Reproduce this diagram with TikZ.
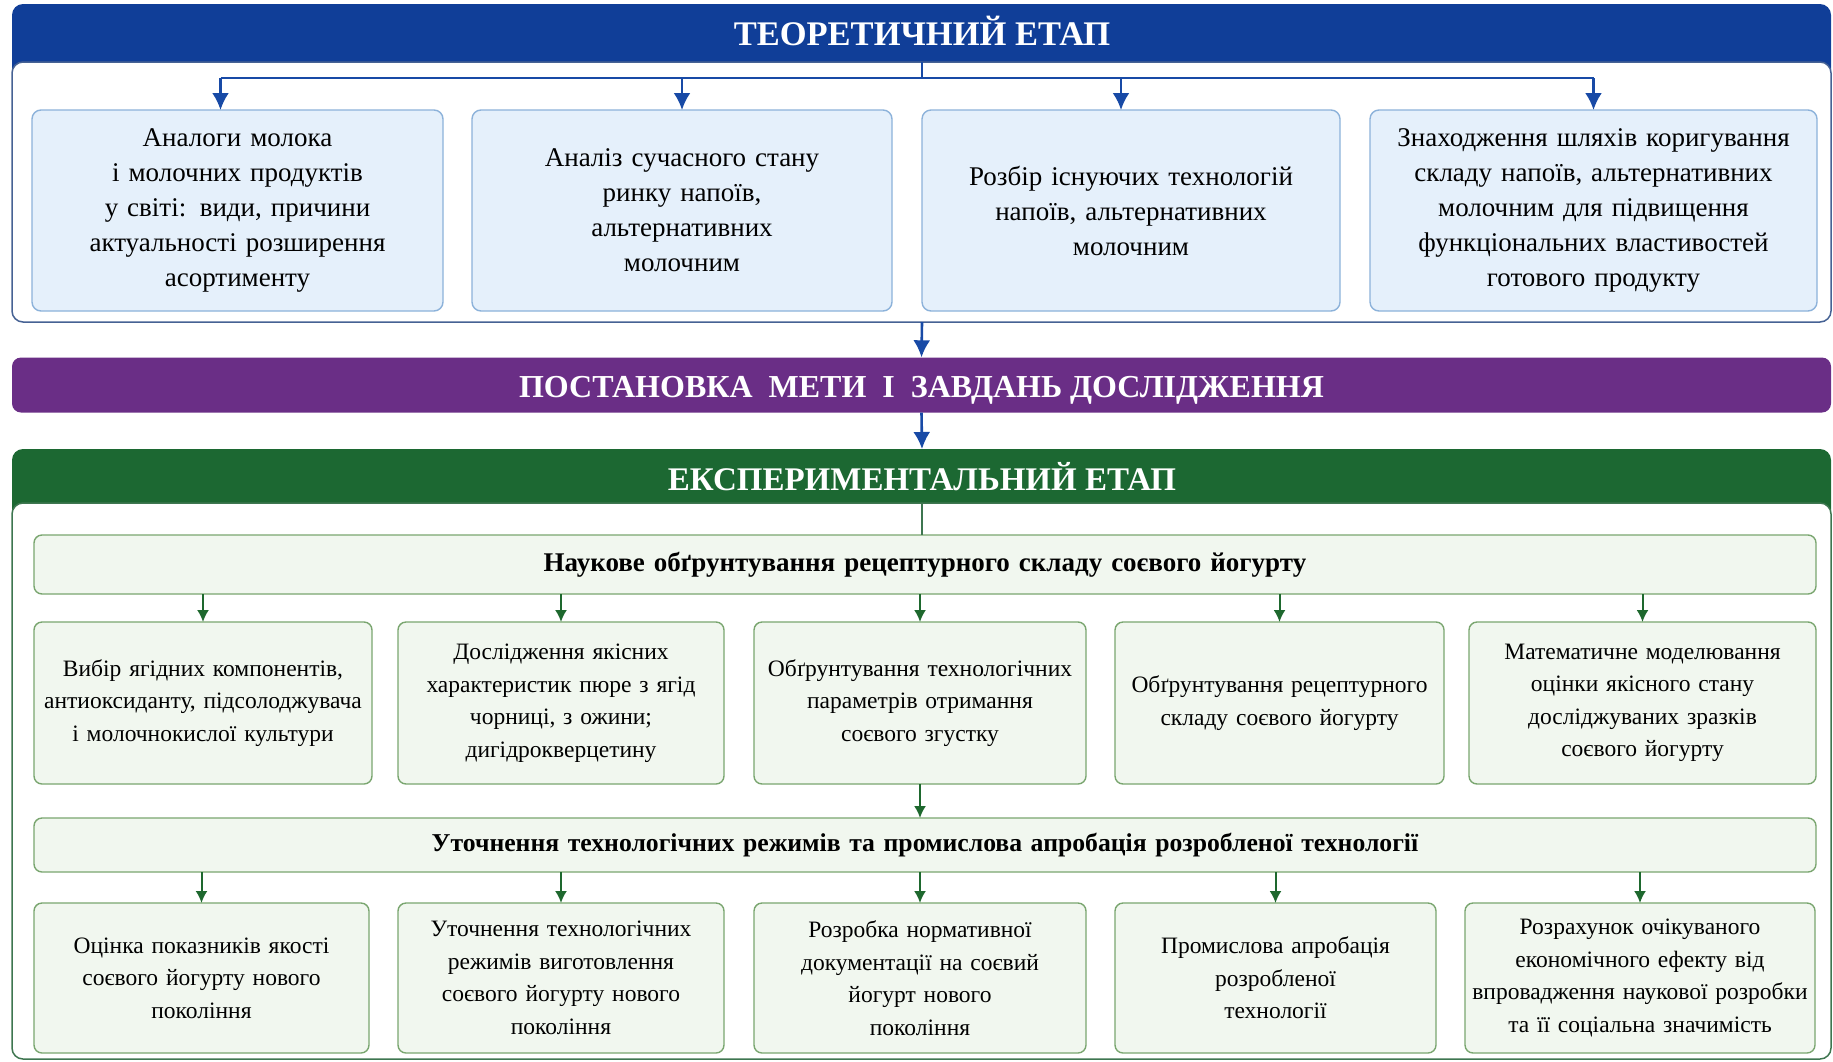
\documentclass[tikz,border=0pt]{standalone}
\usepackage{fontspec}
\setmainfont{Liberation Serif}
\usepackage{tikz}
\usetikzlibrary{arrows.meta,positioning}
\definecolor{blueband}{RGB}{16,62,152}
\definecolor{purpleband}{RGB}{106,46,134}
\definecolor{greenband}{RGB}{28,104,50}
\definecolor{tfill}{RGB}{229,240,251}
\definecolor{tborder}{RGB}{140,178,218}
\definecolor{tframe}{RGB}{70,98,148}
\definecolor{gfill}{RGB}{241,247,239}
\definecolor{gborder}{RGB}{122,166,112}
\definecolor{gframe}{RGB}{62,118,80}
\definecolor{barrowc}{RGB}{24,74,166}
\definecolor{garrowc}{RGB}{30,104,46}
\tikzstyle{band} = [rectangle, rounded corners=9pt, text=white, minimum width=1819pt, minimum height=55pt, font=\fontsize{32}{38}\selectfont\bfseries]
\tikzstyle{headtxt} = [text=white, font=\fontsize{32}{38}\selectfont\bfseries]
\tikzstyle{tpanel} = [fill=white, draw=tframe, line width=1.5pt, rounded corners=11pt]
\tikzstyle{gpanel} = [fill=white, draw=gframe, line width=1.5pt, rounded corners=11pt]
\tikzstyle{tbox} = [rectangle, rounded corners=9pt, draw=tborder, fill=tfill, line width=1.4pt, inner sep=0pt, outer sep=0pt, align=center, minimum height=201pt, font=\fontsize{27}{35}\selectfont]
\tikzstyle{gbox} = [rectangle, rounded corners=8pt, draw=gborder, fill=gfill, line width=1.4pt, inner sep=0pt, outer sep=0pt, align=center, font=\fontsize{23.5}{32.5}\selectfont]
\tikzstyle{wide} = [gbox, text width=1782pt]
\tikzstyle{bline} = [draw=barrowc, line width=2.6pt]
\tikzstyle{gline} = [draw=gframe, line width=1.2pt]
\tikzstyle{barrow} = [draw=barrowc, line width=2.6pt, -{Latex[length=17pt,width=17pt]}]
\tikzstyle{garrow} = [draw=garrowc, line width=2pt, -{Latex[length=12pt,width=12pt]}]

\begin{document}
\begin{tikzpicture}[x=1pt,y=-1pt,auto]
    \useasboundingbox (0,0) rectangle (1833,1061);

    % theoretical stage
    \fill[blueband, rounded corners=11pt] (12,4) rectangle (1831,322);
    \draw[tpanel] (12,62) rectangle (1831,322);
    \node [headtxt, font=\fontsize{34.5}{40}\selectfont\bfseries] (theohead) at (922,31) {ТЕОРЕТИЧНИЙ ЕТАП};
    \coordinate (theotop) at (922,62);
    \coordinate (split) at (922,78);
    \coordinate (theobot) at (922,322);

    \node [tbox, text width=411pt] (analog) at (237.5,210.5) {Аналоги молока\\ і молочних продуктів\\ у світі: види, причини\\ актуальності розширення\\ асортименту};
    \node [tbox, text width=420pt, right=29pt of analog] (market) {Аналіз сучасного стану\\ ринку напоїв,\\ альтернативних\\ молочним};
    \node [tbox, text width=418pt, right=30pt of market] (techs) {Розбір існуючих технологій\\ напоїв, альтернативних\\ молочним};
    \node [tbox, text width=447pt, right=30pt of techs] (ways) {Знаходження шляхів коригування\\ складу напоїв, альтернативних\\ молочним для підвищення\\ функціональних властивостей\\ готового продукту};

    \draw[bline](theotop) -- (split);
    \draw[bline]([xshift=-17pt]analog.north |- split) -- (ways.north |- split);
    \draw[barrow]([xshift=-17pt]analog.north |- split) -- ([xshift=-17pt]analog.north);
    \draw[barrow](market.north |- split) -- (market.north);
    \draw[barrow]([xshift=-10pt]techs.north |- split) -- ([xshift=-10pt]techs.north);
    \draw[barrow](ways.north |- split) -- (ways.north);

    % goal
    \node [band, fill=purpleband, text depth=0pt, text height=24pt] (goal) at (921.5,385) {ПОСТАНОВКА\ \ МЕТИ\ \ І\ \ ЗАВДАНЬ ДОСЛІДЖЕННЯ};

    % experimental stage
    \fill[greenband, rounded corners=11pt] (12,449) rectangle (1831,1059);
    \draw[gpanel] (12,503) rectangle (1831,1059);
    \node [headtxt, font=\fontsize{33}{38}\selectfont\bfseries] (exphead) at (922,477) {ЕКСПЕРИМЕНТАЛЬНИЙ ЕТАП};
    \coordinate (expstart) at (922,449);
    \coordinate (exptop) at (922,503);

    \draw[barrow](theobot) -- (goal.north);
    \draw[barrow](goal.south) -- (expstart);

    \node [wide, minimum height=59pt, font=\fontsize{27}{30}\selectfont\bfseries] (recipe) at (925,564.5) {Наукове обґрунтування рецептурного складу соєвого йогурту};
    \draw[gline](exptop) -- (exptop |- recipe.north);

    \node [gbox, text width=338pt, minimum height=162pt] (select) at (203,703) {Вибір ягідних компонентів,\\ антиоксиданту, підсолоджувача\\ і молочнокислої культури};
    \node [gbox, text width=326pt, minimum height=162pt, right=26pt of select] (puree) {Дослідження якісних\\ характеристик пюре з ягід\\ чорниці, з ожини;\\ дигідрокверцетину};
    \node [gbox, text width=332pt, minimum height=162pt, right=30pt of puree] (params) {Обґрунтування технологічних\\ параметрів отримання\\ соєвого згустку};
    \node [gbox, text width=329pt, minimum height=162pt, right=29pt of params] (compos) {Обґрунтування рецептурного\\ складу соєвого йогурту};
    \node [gbox, text width=347pt, minimum height=162pt, right=25pt of compos] (model) {Математичне моделювання\\ оцінки якісного стану\\ досліджуваних зразків\\ соєвого йогурту};

    \draw[garrow](select.north |- recipe.south) -- (select.north);
    \draw[garrow](puree.north |- recipe.south) -- (puree.north);
    \draw[garrow](params.north |- recipe.south) -- (params.north);
    \draw[garrow](compos.north |- recipe.south) -- (compos.north);
    \draw[garrow](model.north |- recipe.south) -- (model.north);

    \node [wide, minimum height=54pt, font=\fontsize{25.7}{30}\selectfont\bfseries] (refine) at (925,845) {Уточнення технологічних режимів та промислова апробація розробленої технології};
    \draw[garrow](params.south) -- (params.south |- refine.north);

    \node [gbox, text width=335pt, minimum height=150pt] (quality) at (201.5,978) {Оцінка показників якості\\ соєвого йогурту нового\\ покоління};
    \node [gbox, text width=326pt, minimum height=150pt, right=29pt of quality] (modes) {Уточнення технологічних\\ режимів виготовлення\\ соєвого йогурту нового\\ покоління};
    \node [gbox, text width=332pt, minimum height=150pt, right=30pt of modes] (docs) {Розробка нормативної\\ документації на соєвий\\ йогурт нового\\ покоління};
    \node [gbox, text width=321pt, minimum height=150pt, right=29pt of docs] (approb) {Промислова апробація\\ розробленої\\ технології};
    \node [gbox, text width=350pt, minimum height=150pt, right=29pt of approb] (effect) {Розрахунок очікуваного\\ економічного ефекту від\\ впровадження наукової розробки\\ та її соціальна значимість};

    \draw[garrow](quality.north |- refine.south) -- (quality.north);
    \draw[garrow](modes.north |- refine.south) -- (modes.north);
    \draw[garrow](docs.north |- refine.south) -- (docs.north);
    \draw[garrow](approb.north |- refine.south) -- (approb.north);
    \draw[garrow](effect.north |- refine.south) -- (effect.north);
\end{tikzpicture}
\end{document}
